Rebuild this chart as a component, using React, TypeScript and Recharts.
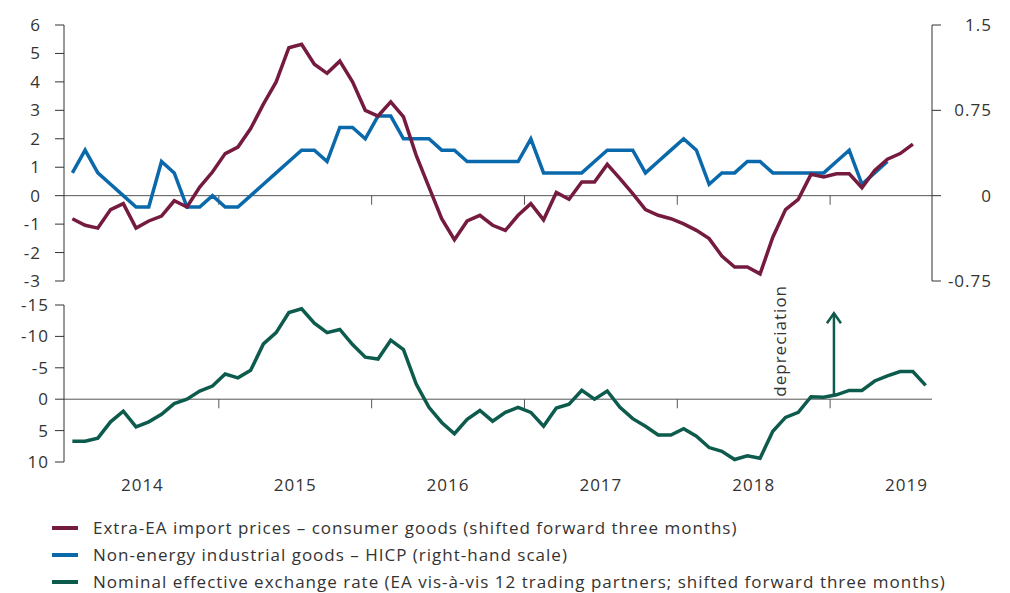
import React from "react"
import { LineChart, Line, XAxis, YAxis, ReferenceLine } from "recharts"

// monthly observations, Jan 2014 onwards
const years = ["2014", "2015", "2016", "2017", "2018", "2019"]

// Extra-EA import prices, consumer goods (% y-o-y, left scale)
const importPrices = [
  -0.81, -1.04, -1.14, -0.49, -0.28, -1.14, -0.89, -0.72, -0.18, -0.4,
  0.3, 0.83, 1.48, 1.71, 2.36, 3.22, 4.0, 5.2, 5.32, 4.62,
  4.3, 4.73, 4.0, 3.0, 2.8, 3.3, 2.77, 1.42, 0.3, -0.81,
  -1.55, -0.89, -0.69, -1.04, -1.22, -0.69, -0.28, -0.85, 0.11, -0.13,
  0.48, 0.48, 1.1, 0.6, 0.07, -0.49, -0.69, -0.81, -0.99, -1.22,
  -1.51, -2.12, -2.51, -2.51, -2.75, -1.46, -0.49, -0.13, 0.75, 0.66,
  0.77, 0.77, 0.28, 0.89, 1.28, 1.48, 1.81,
]

// Non-energy industrial goods HICP (right scale)
const negHicp = [
  0.2, 0.4, 0.2, 0.1, 0.0, -0.1, -0.1, 0.3, 0.2, -0.1,
  -0.1, 0.0, -0.1, -0.1, 0.0, 0.1, 0.2, 0.3, 0.4, 0.4,
  0.3, 0.6, 0.6, 0.5, 0.7, 0.7, 0.5, 0.5, 0.5, 0.4,
  0.4, 0.3, 0.3, 0.3, 0.3, 0.3, 0.5, 0.2, 0.2, 0.2,
  0.2, 0.3, 0.4, 0.4, 0.4, 0.2, 0.3, 0.4, 0.5, 0.4,
  0.1, 0.2, 0.2, 0.3, 0.3, 0.2, 0.2, 0.2, 0.2, 0.2,
  0.3, 0.4, 0.1, 0.2, 0.3,
]

// Nominal effective exchange rate (inverted scale)
const neer = [
  6.7, 6.7, 6.2, 3.6, 1.9, 4.4, 3.6, 2.4, 0.7, 0.0,
  -1.3, -2.1, -4.0, -3.4, -4.6, -8.8, -10.6, -13.8, -14.4, -12.1,
  -10.6, -11.1, -8.7, -6.7, -6.4, -9.4, -7.9, -2.4, 1.3, 3.7,
  5.5, 3.2, 1.8, 3.5, 2.1, 1.3, 2.1, 4.3, 1.4, 0.8,
  -1.4, 0.0, -1.3, 1.3, 3.1, 4.3, 5.7, 5.7, 4.7, 5.9,
  7.7, 8.3, 9.6, 9.0, 9.4, 5.1, 2.9, 2.1, -0.4, -0.3,
  -0.7, -1.4, -1.4, -2.9, -3.7, -4.4, -4.4, -2.2,
]

const leftTicks = [-3, -2, -1, 0, 1, 2, 3, 4, 5, 6]
const rightTicks = [-0.75, 0, 0.75, 1.5]
const neerTicks = [-15, -10, -5, 0, 5, 10]

const PURPLE = "#751b40"
const BLUE = "#0a69ab"
const GREEN = "#0d5b4c"
const AXIS = "#333"
const FONT = "'Open Sans', sans-serif"

const nMonths = years.length * 12 - 4 // axis ends in Aug 2019
const yearBreaks = years.slice(1).map((_, i) => (i + 1) * 12)
const yearMid = years.map((_, i) => i * 12 + 6)

const data = Array.from({ length: nMonths }, (_, i) => ({
  x: i + 0.5,
  imp: importPrices[i] ?? null,
  neg: negHicp[i] ?? null,
  neer: neer[i] ?? null,
}))

const tickStyle = { fill: AXIS, fontSize: 17, fontFamily: FONT }

const RightTick = (p: any) => (
  <text x={p.x + 49} y={p.y} dy="0.355em" textAnchor="end" {...tickStyle}>
    {p.payload.value}
  </text>
)

const DepreciationArrow = (p: any) => {
  const x = p.x1
  const top = Math.min(p.y1, p.y2)
  const bottom = Math.max(p.y1, p.y2)
  return (
    <g>
      <line x1={x} y1={bottom} x2={x} y2={top} stroke={GREEN} strokeWidth={2.5} />
      <polyline
        points={`${x - 7},${top + 10} ${x},${top} ${x + 7},${top + 10}`}
        fill="none"
        stroke={GREEN}
        strokeWidth={2.5}
      />
      <text
        x={x - 48}
        y={bottom}
        transform={`rotate(-90 ${x - 48} ${bottom})`}
        textAnchor="start"
        fill={AXIS}
        fontSize={17}
        fontFamily={FONT}
      >
        depreciation
      </text>
    </g>
  )
}

const legendItems = [
  { color: PURPLE, label: "Extra-EA import prices – consumer goods (shifted forward three months)" },
  { color: BLUE, label: "Non-energy industrial goods – HICP (right-hand scale)" },
  { color: GREEN, label: "Nominal effective exchange rate (EA vis-à-vis 12 trading partners; shifted forward three months)" },
]

export default function App() {
  return (
    <div
      style={{
        position: "absolute",
        left: 0,
        top: 0,
        width: 1010,
        height: 593,
        background: "#fff",
        fontFamily: FONT,
        letterSpacing: 1,
      }}
    >
      <div style={{ position: "absolute", left: 0, top: 0 }}>
        <LineChart width={1010} height={294} data={data} margin={{ top: 25, right: 0, bottom: 13, left: 0 }}>
          <XAxis dataKey="x" type="number" domain={[0, nMonths]} hide padding={{ left: 2, right: 0 }} />
          <YAxis
            yAxisId="left"
            width={64}
            domain={[-3, 6]}
            ticks={leftTicks}
            interval={0}
            stroke={AXIS}
            tickSize={9}
            tickMargin={14}
            tick={tickStyle}
          />
          <YAxis
            yAxisId="right"
            orientation="right"
            width={78}
            domain={[-0.75, 1.5]}
            ticks={rightTicks}
            interval={0}
            stroke={AXIS}
            tickSize={9}
            tick={<RightTick />}
          />
          <ReferenceLine yAxisId="left" y={0} stroke="#555" strokeWidth={1} />
          {yearBreaks.map((b) => (
            <ReferenceLine
              key={b}
              yAxisId="left"
              segment={[{ x: b, y: 0 }, { x: b, y: -0.32 }]}
              stroke="#555"
              strokeWidth={1}
            />
          ))}
          <Line yAxisId="right" dataKey="neg" stroke={BLUE} strokeWidth={3.5} dot={false} isAnimationActive={false} />
          <Line yAxisId="left" dataKey="imp" stroke={PURPLE} strokeWidth={3.5} dot={false} isAnimationActive={false} />
        </LineChart>
      </div>
      <div style={{ position: "absolute", left: 0, top: 284 }}>
        <LineChart width={1010} height={226} data={data} margin={{ top: 21, right: 78, bottom: 0, left: 0 }}>
          <XAxis
            dataKey="x"
            type="number"
            domain={[0, nMonths]}
            padding={{ left: 2, right: 0 }}
            ticks={yearMid}
            interval={0}
            tickFormatter={(v: number) => years[(v - 6) / 12]}
            axisLine={false}
            tickLine={false}
            tickSize={0}
            tickMargin={17}
            height={48}
            tick={tickStyle}
          />
          <YAxis
            width={64}
            reversed
            domain={[-15, 10]}
            ticks={neerTicks}
            interval={0}
            stroke={AXIS}
            tickSize={9}
            tickMargin={6}
            tick={tickStyle}
          />
          <ReferenceLine y={0} stroke="#555" strokeWidth={1} />
          {yearBreaks.map((b) => (
            <ReferenceLine key={b} segment={[{ x: b, y: 0 }, { x: b, y: 1.45 }]} stroke="#555" strokeWidth={1} />
          ))}
          <ReferenceLine
            segment={[{ x: 60.3, y: -0.4 }, { x: 60.3, y: -13.7 }]}
            shape={DepreciationArrow}
          />
          <Line dataKey="neer" stroke={GREEN} strokeWidth={3.5} dot={false} isAnimationActive={false} />
        </LineChart>
      </div>
      <div style={{ position: "absolute", left: 52, top: 514 }}>
        {legendItems.map((it) => (
          <div
            key={it.label}
            style={{ position: "relative", height: 27, lineHeight: "27px", fontSize: 17, color: AXIS, whiteSpace: "nowrap" }}
          >
            <span style={{ position: "absolute", left: 0, top: 12, width: 26, height: 3.5, background: it.color }} />
            <span style={{ position: "absolute", left: 41 }}>{it.label}</span>
          </div>
        ))}
      </div>
    </div>
  )
}
